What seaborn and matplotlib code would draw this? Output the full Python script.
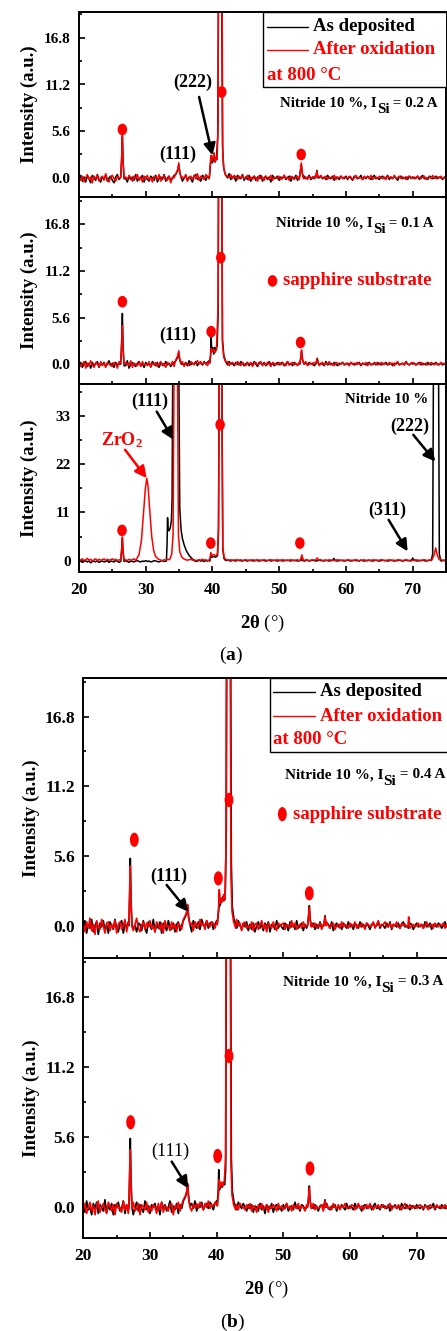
import numpy as np
import pandas as pd
import matplotlib
matplotlib.use("Agg")
import matplotlib.pyplot as plt
import seaborn as sns
from matplotlib.path import Path
from matplotlib.transforms import Affine2D
from matplotlib.lines import Line2D
from matplotlib.patches import Rectangle
from matplotlib.ticker import MultipleLocator

# ---------------------------------------------------------------- data
# background counts on a 0.25 deg grid starting at 2theta = 20 deg, in tenths
GRID_START, GRID_STEP = 20.0, 0.25

a1_black_bg = [
    -2, 3, -4, 1, -5, 2, -1, -6, 3, 0, -3, 4, -2, -5, 1, -1, 3, -4, 0, 2,
    -3, -6, 1, 4, -2, 0, -4, 3, -1, -5, 2, -2, 1, -3, 4, -4, 0, -1, 3, -5,
    1, -2, -4, 2, 0, -3, 3, -5, -1, 1, -2, 4, -4, 0, 2, -3, -1, 3, -6, 1,
    -2, 2, -4, 0, 3, -3, 1, -1, -5, 2, 4, -2, 0, -4, 3, 1, -3, 2, -1, 5,
    0, 3, -2, 1, 4, -1, 2, -3, 3, 0, 5, -2, 1, 2, -4, 3, 0, -1, 4, -3,
    1, -2, 3, -4, 0, 2, -3, 1, -1, 3, -4, 0, 2, -2, 1, -5, 3, -1, 0, 2,
    -3, 1, -1, 3, -2, 0, 2, -4, 1, -1, 3, -3, 0, 1, -2, 2, -1, 0, 3, -2,
    1, -1, 2, -3, 0, 2, -1, 1, -2, 3, 0, -1, 2, -3, 1, 0, -2, 2, 0, -1,
    2, -2, 1, 0, -3, 2, 1, -1, 0, 3, -2, 1, -1, 2, 0, -2, 1, 3, -1, 0,
    -2, 1, 2, -1, 0, 3, -2, 1, -1, 2, 0, -3, 1, 2, -1, 0, 1, -2, 2, 0,
    1, -1, 0, 2, -2, 1, 3, -1, 0, -2, 2, 1, -1, 0, 2, -1, 1, 0, -2, 1,
    0, 2, -1]
a1_red_bg = [
    1, -3, 2, -5, 0, 4, -2, 1, -6, 2, -1, 3, -4, 0, 2, -3, 5, -2, -5, 1,
    3, -1, -4, 2, 0, -3, 4, -6, 1, -2, 3, 0, -4, 2, -1, 4, -3, 1, -5, 2,
    -1, 3, -3, 0, -5, 2, 1, -2, 4, -4, 0, 3, -1, -3, 2, -6, 1, 0, 3, -2,
    2, -3, 1, -1, 4, -4, 0, 2, -2, 3, -1, 5, -3, 2, 0, -2, 4, 1, -1, 3,
    2, 5, 0, 3, -1, 4, 1, -2, 3, 2, 0, 4, -1, 3, 1, -2, 2, 0, 3, -1,
    0, 3, -3, 1, -2, 2, 0, -4, 3, -1, 1, -3, 2, 0, -2, 3, -3, 1, 0, -1,
    2, -2, 0, 3, -1, 1, -3, 2, 0, -2, 1, 2, -2, 0, 3, -1, 1, -2, 2, 0,
    -1, 2, 0, -2, 1, 3, -1, 0, 2, -2, 1, 0, -1, 3, -2, 1, 0, 2, -1, 1,
    0, -1, 2, 1, -2, 0, 3, -1, 1, 0, -2, 2, 0, 1, -1, 3, -2, 0, 1, -1,
    2, 0, -1, 1, -2, 2, 0, 1, -1, 3, -1, 0, 2, -1, 1, 0, -2, 1, 2, -1,
    0, 1, -1, 2, 0, -1, 1, 2, -2, 0, 1, -1, 3, 0, -1, 1, 0, 2, -1, 0,
    1, -1, 0]
a2_black_bg = [
    -1, 2, -4, 0, 3, -3, 1, -5, 2, -2, 0, 3, -4, 1, -1, 2, -3, 0, 4, -2,
    1, -4, 2, -1, 0, 3, -3, 1, -2, 4, -5, 0, 2, -1, -3, 1, 3, -2, 0, -4,
    2, -1, 1, -3, 3, 0, -2, 2, -4, 1, 0, -2, 3, -1, 1, -3, 0, 2, -2, 1,
    -3, 3, 0, -1, 2, -2, 4, -1, 1, 0, 3, -2, 2, 1, -1, 3, 0, 2, 4, -1,
    3, 1, -1, 2, 0, 3, -2, 1, 2, -1, 3, 0, 1, -2, 2, 0, -1, 3, 1, -2,
    0, 2, -2, 1, -1, 3, 0, -3, 2, 1, -1, 2, -2, 0, 3, -1, 1, -2, 0, 2,
    -1, 1, 2, -2, 0, 3, -1, 1, -2, 2, 0, -1, 1, 2, -2, 0, 1, -1, 2, 0,
    1, -2, 0, 2, -1, 1, 0, -2, 3, -1, 0, 1, -1, 2, 0, -2, 1, 0, 2, -1,
    0, 1, -1, 2, 0, -1, 1, 0, 2, -2, 1, 0, -1, 1, 2, -1, 0, 1, -1, 2,
    0, -1, 1, 0, 2, -1, 0, 1, -2, 1, 0, 2, -1, 0, 1, -1, 3, 0, -1, 1,
    0, 1, -1, 0, 2, -1, 1, 0, -1, 2, 0, -1, 1, 0, 2, -1, 0, 1, -1, 0,
    1, 0, -1]
a2_red_bg = [
    2, -3, 0, 3, -5, 1, -2, 4, -1, -4, 2, 0, -3, 3, -2, 1, -4, 2, 0, -1,
    -3, 2, 0, -5, 3, -1, 1, -3, 2, 0, -2, 4, -4, 1, 0, -2, 2, -3, 3, -1,
    0, -2, 3, -4, 1, -1, 2, -3, 0, 3, -2, 1, -4, 2, 0, -1, 3, -3, 1, -2,
    2, -1, 3, -3, 1, 0, -2, 3, 1, -1, 2, 4, 0, 3, -1, 2, 1, -2, 3, 2,
    1, 3, 0, -1, 2, 4, -1, 2, 0, 3, -2, 1, 2, 0, -1, 3, 1, -2, 2, 0,
    -2, 1, 0, 2, -3, 1, 2, -1, 0, 3, -2, 1, -1, 2, 0, -3, 2, 1, -1, 0,
    2, -1, 1, 0, -2, 3, -1, 0, 2, -1, 1, -2, 2, 0, -1, 1, 3, -2, 0, 1,
    -1, 2, 0, 1, -2, 0, 2, -1, 1, 0, 3, -1, 0, -2, 2, 1, -1, 0, 2, -1,
    1, 0, -2, 2, 0, 1, -1, 2, 0, -1, 1, 0, 2, -2, 1, 0, -1, 2, 1, -1,
    0, 2, -1, 1, 0, -1, 2, 0, 1, -2, 1, 3, -1, 0, 1, -1, 2, 0, -1, 1,
    2, 0, -1, 1, 0, 2, -1, 0, 1, -1, 0, 2, 0, -1, 1, 0, -1, 2, 0, 1,
    -1, 0, 1]
a3_black_bg = [
    -3, -1, -4, -2, 0, -3, -1, -5, -2, -1, -3, 0, -4, -2, -1, -3, -2, 0, -4, -1,
    -2, -3, 0, -1, -4, -2, -1, -3, 0, -2, -4, -1, -2, -3, -1, 0, -2, -3, -1, -2,
    0, -2, -1, -3, -2, 0, -1, -2, -3, -1, 0, -2, -1, -3, 0, -1, -2, -1, 0, -2,
    -1, -2, 0, -1, -3, -1, 0, -2, -1, 0, -2, -1, 1, -1, 0, -2, 0, -1, 1, -1,
    0, -1, 1, 0, -1, 0, 1, -1, 0, 2, 0, -1, 1, 0, -1, 1, 0, 0, -1, 1,
    0, -1, 1, 0, 0, -1, 1, 0, -1, 0, 1, 0, -1, 0, 1, -1, 0, 1, 0, -1,
    0, 1, -1, 0, 0, 1, 0, -1, 1, 0, 0, -1, 0, 1, 0, -1, 0, 1, -1, 0,
    1, 0, -1, 0, 1, 0, 0, -1, 1, 0, -1, 0, 1, 0, 0, -1, 0, 1, 0, -1,
    0, 1, 0, -1, 0, 1, 0, 0, -1, 1, 0, -1, 0, 0, 1, 0, -1, 0, 1, 0,
    -1, 0, 1, 0, 0, -1, 0, 1, 0, -1, 0, 0, 1, 0, -1, 0, 1, 0, 0, -1,
    0, 1, 0, -1, 0, 0, 1, 0, -1, 0, 1, 0, 0, -1, 0, 1, 0, -1, 0, 0,
    1, 0, -1]
a3_red_bg = [
    3, 1, 4, 0, 2, 5, 1, 3, -1, 2, 4, 0, 3, 1, 2, 4, 0, 3, 1, 2,
    4, 1, 3, 0, 2, 3, 1, 4, 2, 0, 3, 1, 2, 4, 0, 2, 3, 1, 2, 0,
    2, 3, 1, 2, 0, 3, 1, 2, 3, 1, 0, 2, 1, 3, 2, 1, 0, 2, 3, 1,
    2, 1, 3, 0, 2, 1, 2, 3, 1, 2, 0, 1, 2, 1, 3, 1, 2, 0, 1, 2,
    1, 2, 0, 1, 2, 1, 3, 1, 0, 2, 1, 2, 0, 1, 2, 1, 1, 2, 0, 1,
    2, 1, 0, 1, 2, 1, 0, 2, 1, 1, 0, 2, 1, 0, 1, 2, 1, 0, 1, 2,
    1, 0, 2, 1, 1, 0, 1, 2, 0, 1, 1, 2, 0, 1, 1, 0, 2, 1, 0, 1,
    2, 1, 0, 1, 1, 2, 0, 1, 1, 0, 2, 1, 1, 0, 1, 2, 1, 0, 1, 1,
    0, 2, 1, 1, 0, 1, 2, 1, 0, 1, 1, 2, 0, 1, 1, 0, 2, 1, 1, 0,
    1, 2, 1, 0, 1, 1, 2, 0, 1, 1, 0, 2, 1, 1, 0, 1, 2, 1, 0, 1,
    1, 0, 2, 1, 1, 0, 1, 2, 1, 0, 1, 1, 2, 0, 1, 1, 0, 2, 1, 1,
    0, 1, 2]
b1_black_bg = [
    -3, 4, -6, 1, -2, 5, -5, 0, 3, -7, 2, -1, 4, -4, 1, -6, 3, 0, -3, 5,
    -2, -5, 2, 4, -6, 1, -1, 3, -4, 6, -3, 0, -5, 2, 1, -4, 4, -2, -6, 3,
    0, -3, 5, -5, 1, -2, 3, -6, 2, 0, -4, 4, -1, -3, 2, -5, 1, 3, -4, 0,
    2, -4, 1, -1, 3, -5, 4, 0, -2, 3, -3, 5, 1, -1, 4, -2, 2, 3, -3, 1,
    4, -2, 3, 0, -3, 2, 5, -1, 2, -4, 3, 1, -2, 4, 0, -3, 2, -1, 3, -4,
    1, -3, 2, -5, 0, 3, -2, 1, -4, 2, -1, 3, -5, 1, 0, -3, 4, -2, 1, -1,
    -3, 2, 0, -4, 3, -1, 1, -3, 4, -2, 0, 2, -4, 1, -2, 3, -1, 0, 2, -3,
    1, -2, 3, -1, 0, -3, 2, 1, -2, 3, -4, 0, 2, -1, 1, -3, 2, 0, -2, 3,
    -1, 1, -3, 2, 0, -2, 3, -1, 1, -2, 2, 0, -3, 1, 2, -1, 0, 3, -2, 1,
    0, -2, 2, -1, 3, -3, 1, 0, -1, 2, -2, 1, 3, -1, 0, -2, 2, 1, -3, 0,
    2, -1, 0, 1, -2, 3, -1, 0, 2, -3, 1, 0, -1, 2, 1, -2, 0, 3, -1, 1,
    -2, 0, 1]
b1_red_bg = [
    2, -5, 3, -2, 6, -4, 1, -7, 4, -1, -3, 5, 0, -6, 2, 3, -4, 1, -2, 4,
    -6, 1, 3, -3, 0, 5, -5, 2, -1, 3, -4, 1, 6, -2, -5, 0, 3, -3, 2, -1,
    4, -2, 0, -5, 3, 1, -3, 2, -6, 4, -1, 0, -4, 3, -2, 1, -5, 2, 0, -3,
    3, 0, -3, 4, -1, 2, -4, 3, 1, -2, 5, 0, 2, -3, 4, 1, -1, 3, 2, -2,
    3, 1, -2, 5, 0, 2, -3, 4, 1, -1, 3, -2, 5, 0, 2, -4, 1, 3, -2, 0,
    -2, 3, -4, 1, 2, -3, 0, 4, -2, 1, -5, 2, 0, -2, 3, -1, -4, 2, 0, 1,
    2, -3, 1, 0, -2, 4, -1, 2, -3, 0, 1, -2, 3, -1, 0, 2, -4, 1, -1, 2,
    -2, 0, 2, -3, 1, -1, 3, 0, -2, 1, 2, -3, 0, 1, -2, 3, -1, 1, 0, -2,
    2, -1, 0, 3, -2, 1, -1, 2, 0, -3, 2, 1, -1, 0, 3, -2, 1, 4, -1, 0,
    1, 3, -1, 0, 2, -2, 1, 0, 3, -1, -2, 2, 0, 1, -1, 3, -2, 0, 1, -1,
    0, 2, -1, 1, -2, 0, 3, -1, 0, 1, -2, 2, 0, -1, 1, 0, 2, -2, 1, 0,
    1, -1, 0]
b2_black_bg = [
    1, -4, 5, -2, 0, -6, 3, -1, 4, -5, 2, 0, -3, 6, -4, 1, -2, 3, -6, 2,
    0, 4, -3, -1, 5, -5, 2, -2, 1, 3, -6, 0, 4, -3, 2, -1, -4, 5, -2, 1,
    -5, 2, 0, 3, -3, 1, -6, 4, -1, 2, -3, 0, 5, -4, 1, -2, 3, -5, 2, -1,
    1, -3, 4, 0, -2, 3, -1, 5, -3, 2, 0, 4, -2, 1, 3, -1, 4, 2, -2, 3,
    5, 0, 2, -2, 4, 1, 3, -1, 5, 2, 0, 3, -2, 4, 1, -1, 3, 0, -3, 2,
    -1, 2, -4, 1, 0, -3, 3, -2, 1, -5, 2, 0, -1, 3, -4, 1, 2, -2, 0, -3,
    2, -1, 3, -3, 0, 1, -2, 4, -1, 0, -3, 2, 1, -2, 0, 3, -3, 1, -1, 2,
    0, -3, 1, 2, -2, 0, 3, -1, -2, 1, 0, 2, -3, 1, -1, 2, 0, -2, 3, -1,
    1, 0, -2, 3, -1, 2, 0, -3, 1, 2, -1, 0, 2, -2, 1, 3, -1, 0, -2, 2,
    0, 1, -1, 2, -3, 1, 0, 2, -1, 1, -2, 3, 0, -1, 2, 0, -2, 1, 1, -1,
    2, 0, -1, 1, -2, 2, 0, 1, -1, 0, 3, -2, 1, 0, -1, 2, 0, -1, 1, 0,
    -1, 1, 0]
b2_red_bg = [
    -2, 3, -5, 0, 4, -3, 1, -6, 2, 5, -4, 0, 3, -2, -5, 4, 1, -3, 2, -6,
    3, -1, 0, -4, 5, -2, 2, -5, 1, 0, 4, -3, -1, 3, -6, 2, 0, -2, 4, -4,
    1, -3, 2, 0, -5, 3, -2, 4, -4, 1, 0, -3, 2, 3, -6, 1, -1, 4, -3, 2,
    -1, 3, -2, 1, 4, -3, 2, 0, 3, -1, 4, 1, -2, 3, 0, 5, -1, 2, 1, 4,
    2, 4, -1, 3, 0, 5, -2, 2, 3, 0, -1, 4, 2, -2, 3, 1, 0, -2, 2, -1,
    3, -3, 1, 0, -4, 2, -1, 3, -2, 0, 2, -4, 1, -1, 2, 0, -3, 3, -1, 1,
    -2, 0, 3, -1, 1, -3, 2, 0, -1, 3, -2, 1, 0, -3, 2, 1, -1, 0, 3, -2,
    1, -1, 0, 2, -3, 1, 2, -1, 0, -2, 3, 0, -1, 2, -2, 1, 0, 3, -1, 0,
    -1, 2, 1, -2, 0, 3, -1, 1, -2, 0, 2, -1, 3, 0, -2, 1, 0, 2, -1, 1,
    2, -1, 0, 1, 3, -2, 0, 1, -1, 2, 0, -2, 1, 3, -1, 0, 2, -1, 0, 1,
    -1, 1, 2, 0, -1, 1, 0, -2, 2, 1, 0, -1, 2, 0, 1, -1, 0, 2, -1, 1,
    0, -1, 1]

# diffraction peaks: (2theta, intensity) points
a1_black_peaks = [
    [(26.25, 0.1), (26.4, 2.4), (26.5, 4.9), (26.6, 2.1), (26.75, -0.1)],
    [(34.5, 0.4), (34.8, 0.9), (34.95, 1.6), (35.1, 0.7), (35.3, 0.1)],
    [(39.55, 0.2), (39.7, 1.6), (39.85, 2.2), (40.0, 1.8), (40.2, 2.4), (40.4, 1.9),
     (40.6, 2.3), (40.8, 5.0), (40.95, 30.0), (41.35, 30.0), (41.5, 4.0), (41.65, 1.4),
     (41.85, 0.6), (42.1, 0.2)],
    [(53.05, 0.1), (53.2, 0.9), (53.32, 1.6), (53.45, 0.6), (53.65, 0.0)],
    [(55.5, 0.1), (55.65, 0.9), (55.8, 0.0)],
]
a1_red_peaks = [
    [(26.25, 0.0), (26.4, 2.6), (26.5, 5.1), (26.6, 2.2), (26.75, 0.0)],
    [(34.5, 0.5), (34.8, 1.0), (34.95, 1.8), (35.1, 0.6), (35.3, 0.0)],
    [(39.55, 0.1), (39.7, 2.1), (39.8, 2.7), (39.95, 2.0), (40.1, 2.6), (40.25, 3.0),
     (40.4, 1.9), (40.55, 2.5), (40.7, 2.2), (40.85, 7.0), (40.9, 30.0), (41.4, 30.0),
     (41.55, 3.2), (41.7, 1.2), (41.95, 0.3), (42.2, 0.2)],
    [(53.05, 0.0), (53.2, 1.0), (53.32, 1.8), (53.45, 0.6), (53.65, -0.1)],
    [(55.5, 0.0), (55.65, 0.8), (55.8, 0.1)],
]
a2_black_peaks = [
    [(26.25, 0.0), (26.4, 3.0), (26.5, 6.1), (26.6, 2.3), (26.75, -0.2)],
    [(34.5, 0.4), (34.8, 0.8), (34.95, 1.4), (35.1, 0.5), (35.3, 0.0)],
    [(39.6, 0.2), (39.72, 1.2), (39.8, 3.3), (39.9, 1.5), (40.05, 2.0), (40.2, 1.2),
     (40.35, 2.0), (40.5, 1.6), (40.7, 2.2), (40.85, 6.0), (40.95, 30.0), (41.35, 30.0),
     (41.5, 3.0), (41.7, 1.0), (42.0, 0.3)],
    [(53.1, 0.0), (53.25, 0.8), (53.35, 1.5), (53.5, 0.5), (53.7, 0.0)],
    [(55.5, 0.0), (55.7, 0.7), (55.9, 0.0)],
]
a2_red_peaks = [
    [(26.25, 0.1), (26.4, 2.2), (26.5, 4.6), (26.6, 1.8), (26.75, 0.0)],
    [(34.5, 0.5), (34.8, 1.0), (34.95, 1.6), (35.1, 0.6), (35.3, 0.1)],
    [(39.6, 0.1), (39.75, 1.2), (39.82, 1.9), (40.0, 1.5), (40.2, 1.8), (40.4, 1.4),
     (40.6, 1.8), (40.85, 7.0), (40.92, 30.0), (41.38, 30.0), (41.5, 2.5), (41.7, 0.8),
     (42.0, 0.2)],
    [(53.1, 0.1), (53.25, 0.9), (53.35, 1.7), (53.5, 0.6), (53.7, 0.0)],
    [(55.5, 0.1), (55.7, 0.6), (55.9, 0.0)],
]
a3_black_peaks = [
    [(26.25, -0.2), (26.4, 2.5), (26.5, 5.0), (26.6, 2.0), (26.75, -0.2)],
    [(33.1, -0.1), (33.2, 4.0), (33.27, 9.8), (33.35, 7.0), (33.5, 6.8), (33.7, 7.6),
     (33.85, 9.2), (33.95, 14.0), (34.05, 45.0), (34.95, 45.0), (35.1, 12.0), (35.3, 7.0),
     (35.5, 5.0), (35.8, 3.4), (36.1, 2.2), (36.5, 1.2), (36.9, 0.5), (37.3, 0.0)],
    [(39.6, -0.1), (39.75, 1.2), (39.9, 0.8), (40.2, 0.9), (40.5, 0.8), (40.75, 1.1),
     (40.9, 6.0), (41.0, 45.0), (41.4, 45.0), (41.55, 2.5), (41.75, 0.4), (42.0, 0.0)],
    [(53.25, 0.0), (53.4, 0.7), (53.55, 0.0)],
    [(58.0, 0.0), (58.2, 0.5), (58.4, 0.0)],
    [(69.8, 0.0), (70.0, 0.6), (70.2, 0.0)],
    [(72.8, 0.1), (73.0, 1.5), (73.12, 45.0), (73.88, 45.0), (74.0, 1.5), (74.2, 0.1)],
]
a3_red_peaks = [
    [(26.25, 0.1), (26.4, 2.8), (26.5, 5.4), (26.6, 2.3), (26.75, 0.1)],
    [(28.6, 0.3), (29.0, 1.4), (29.35, 4.5), (29.65, 10.5), (29.95, 16.5), (30.15, 18.8),
     (30.35, 17.0), (30.6, 11.5), (30.9, 5.5), (31.2, 2.2), (31.5, 0.9), (31.9, 0.3)],
    [(33.6, 0.3), (33.9, 1.5), (34.1, 6.0), (34.25, 45.0), (34.75, 45.0), (34.9, 6.0),
     (35.1, 2.0), (35.4, 0.8), (35.8, 0.3)],
    [(39.6, 0.2), (39.75, 1.8), (39.9, 1.2), (40.2, 1.4), (40.5, 1.1), (40.75, 1.5),
     (40.92, 8.0), (41.02, 45.0), (41.38, 45.0), (41.55, 3.0), (41.75, 0.8), (42.0, 0.2)],
    [(53.2, 0.2), (53.4, 1.3), (53.6, 0.2)],
    [(55.5, 0.2), (55.7, 0.6), (55.9, 0.2)],
    [(72.9, 0.2), (73.2, 1.2), (73.45, 2.9), (73.7, 1.2), (74.0, 0.2)],
]
b1_black_peaks = [
    [(26.85, 0.0), (26.95, 2.5), (27.05, 5.4), (27.15, 2.2), (27.3, 0.1)],
    [(35.0, 0.4), (35.3, 0.7), (35.5, 1.0), (35.65, 1.5), (35.8, 0.7), (36.0, 0.1)],
    [(40.1, 0.2), (40.3, 1.2), (40.4, 2.6), (40.5, 1.6), (40.7, 2.0), (40.9, 2.3),
     (41.1, 2.0), (41.3, 2.8), (41.45, 8.0), (41.55, 30.0), (42.05, 30.0), (42.2, 5.0),
     (42.35, 1.5), (42.6, 0.5), (42.9, 0.1)],
    [(53.65, 0.1), (53.8, 0.8), (53.9, 1.6), (54.0, 0.6), (54.2, 0.0)],
    [(56.1, 0.1), (56.25, 0.8), (56.4, 0.1)],
]
b1_red_peaks = [
    [(26.85, 0.1), (26.95, 2.2), (27.05, 4.8), (27.15, 1.9), (27.3, -0.1)],
    [(35.0, 0.5), (35.3, 0.8), (35.5, 1.1), (35.65, 1.7), (35.8, 0.6), (36.0, 0.1)],
    [(40.1, 0.1), (40.3, 1.5), (40.4, 2.9), (40.5, 1.8), (40.65, 2.2), (40.85, 1.9),
     (41.05, 2.5), (41.25, 2.1), (41.4, 6.0), (41.5, 30.0), (42.0, 30.0), (42.15, 4.0),
     (42.3, 1.2), (42.55, 0.3), (42.85, -0.2)],
    [(53.65, 0.0), (53.8, 0.9), (53.9, 1.5), (54.0, 0.5), (54.2, -0.1)],
    [(56.1, 0.0), (56.25, 0.7), (56.4, 0.0)],
    [(68.7, 0.0), (68.8, 0.7), (68.9, 0.0)],
]
b2_black_peaks = [
    [(26.85, 0.0), (26.95, 2.6), (27.05, 5.5), (27.15, 2.3), (27.3, 0.0)],
    [(35.0, 0.5), (35.3, 0.8), (35.5, 1.2), (35.65, 1.8), (35.8, 0.8), (36.0, 0.1)],
    [(40.1, 0.2), (40.25, 1.5), (40.32, 3.0), (40.42, 1.4), (40.6, 1.8), (40.8, 1.6),
     (41.0, 2.0), (41.2, 1.8), (41.35, 3.0), (41.5, 30.0), (42.05, 30.0), (42.2, 4.0),
     (42.35, 1.3), (42.6, 0.4), (42.9, 0.0)],
    [(53.65, 0.1), (53.8, 0.8), (53.9, 1.7), (54.0, 0.6), (54.2, 0.0)],
    [(56.1, 0.1), (56.25, 0.6), (56.4, 0.0)],
]
b2_red_peaks = [
    [(26.85, 0.1), (26.95, 2.2), (27.05, 4.6), (27.15, 1.9), (27.3, -0.1)],
    [(35.0, 0.6), (35.3, 0.9), (35.5, 1.2), (35.65, 1.9), (35.8, 0.7), (36.0, 0.0)],
    [(40.1, 0.1), (40.3, 1.2), (40.4, 2.2), (40.55, 1.6), (40.75, 2.0), (40.95, 1.7),
     (41.15, 2.1), (41.35, 4.0), (41.45, 30.0), (42.0, 30.0), (42.15, 3.5), (42.3, 1.0),
     (42.55, 0.2), (42.85, -0.2)],
    [(53.65, 0.0), (53.8, 0.9), (53.9, 1.6), (54.0, 0.5), (54.2, -0.1)],
    [(56.1, 0.0), (56.25, 0.5), (56.4, 0.0)],
]

# sapphire substrate reflections marked with red dots
a1_sapphire = [(26.5, 5.8), (41.4, 10.3), (53.3, 2.8)]
a2_sapphire = [(26.5, 7.5), (39.8, 3.9), (41.25, 12.8), (53.2, 2.6)]
a3_sapphire = [(26.45, 6.9), (39.75, 4.0), (41.15, 31.0), (53.1, 4.0)]
b1_sapphire = [(27.65, 6.9), (40.25, 3.8), (41.85, 10.1), (53.9, 2.6)]
b2_sapphire = [(27.1, 6.8), (40.15, 4.1), (41.85, 12.1), (54.0, 3.1)]

series_names = ["As deposited", "After oxidation"]
series_colors = ["black", "red"]
currents = ["0.2", "0.1", None, "0.4", "0.3"]
small_ticks = [0, 5.6, 11.2, 16.8]
small_labels = ["0.0", "5.6", "11.2", "16.8"]
large_ticks = [0, 11, 22, 33]
large_labels = ["0", "11", "22", "33"]
x_ticks = [20, 30, 40, 50, 60, 70]
x_labels = ["20", "30", "40", "50", "60", "70"]

# ---------------------------------------------------------------- style
sns.set_theme(style="ticks")
plt.rcParams.update({
    "font.family": ["Liberation Serif", "DejaVu Serif"],
    "font.weight": "bold",
    "mathtext.fontset": "custom",
    "mathtext.rm": "Liberation Serif",
    "mathtext.bf": "Liberation Serif:bold",
    "mathtext.it": "Liberation Serif:italic",
    "text.color": "black",
    "axes.labelcolor": "black",
    "axes.edgecolor": "black",
    "axes.linewidth": 1.4,
    "xtick.color": "black",
    "ytick.color": "black",
})

W, H = 447, 1331
fig = plt.figure(figsize=(W / 100, H / 100), dpi=100)


def px_box(left, top, right, bottom):
    return [left / W, 1 - bottom / H, (right - left) / W, (bottom - top) / H]


def spectrum(bg, peaks):
    x = GRID_START + GRID_STEP * np.arange(len(bg))
    y = np.asarray(bg, float) / 10.0
    keep = np.ones(len(x), bool)
    px, py = [], []
    for seg in peaks:
        sx = [p[0] for p in seg]
        sy = [p[1] for p in seg]
        keep &= ~((x >= min(sx)) & (x <= max(sx)))
        px += sx
        py += sy
    xs = np.concatenate([x[keep], px])
    ys = np.concatenate([y[keep], py])
    order = np.argsort(xs, kind="stable")
    return xs[order], ys[order]


ellipse_a = Path.unit_circle().transformed(Affine2D().scale(0.82, 1.0))
ellipse_b = Path.unit_circle().transformed(Affine2D().scale(0.62, 1.0))


def panel(box, bgs, peaks, dots, ylim, big, xtick_fs, ytick_fs, marker, msize, lw):
    ax = fig.add_axes(px_box(*box))
    frames = []
    for name, bg, pk in zip(series_names, bgs, peaks):
        xs, ys = spectrum(bg, pk)
        frames.append(pd.DataFrame({"two_theta": xs, "intensity": ys, "sample": name}))
    df = pd.concat(frames, ignore_index=True)
    sns.lineplot(data=df, x="two_theta", y="intensity", hue="sample",
                 hue_order=series_names, palette=series_colors, estimator=None,
                 sort=False, linewidth=lw, legend=False, ax=ax)
    dd = pd.DataFrame(dots, columns=["two_theta", "intensity"])
    sns.scatterplot(data=dd, x="two_theta", y="intensity", marker=marker, s=msize,
                    color="red", edgecolor="none", linewidth=0, zorder=5, ax=ax)
    ax.set_xlim(20, 75)
    ax.set_ylim(*ylim)
    ax.set_xticks(x_ticks)
    ax.set_xticklabels(x_labels)
    ax.xaxis.set_minor_locator(MultipleLocator(5))
    if big:
        ax.set_yticks(large_ticks)
        ax.set_yticklabels(large_labels)
        ax.yaxis.set_minor_locator(MultipleLocator(5.5))
    else:
        ax.set_yticks(small_ticks)
        ax.set_yticklabels(small_labels)
        ax.yaxis.set_minor_locator(MultipleLocator(2.8))
    ax.tick_params(which="both", direction="in", top=False, right=False, width=1.2)
    ax.tick_params(which="major", length=4.5)
    ax.tick_params(which="minor", length=2.5)
    ax.tick_params(axis="y", pad=6, labelsize=ytick_fs)
    ax.tick_params(axis="x", pad=7, labelsize=xtick_fs)
    for lab in ax.get_xticklabels() + ax.get_yticklabels():
        lab.set_fontweight("bold")
    ax.set_xlabel("")
    ax.set_ylabel("Intensity (a.u.)", fontsize=13.5, fontweight="bold")
    return ax


def key_box(ax, x0, y0, lx0, lx1, ly_black, ly_red, tx, ly_note, fs):
    ax.add_patch(Rectangle((x0, y0), 1.05 - x0, 1.0 - y0, transform=ax.transAxes,
                           facecolor="white", edgecolor="black", lw=1.0, zorder=6,
                           clip_on=True))
    for ly, col, txt in [(ly_black, "black", "As deposited"),
                         (ly_red, "red", "After oxidation")]:
        ax.add_line(Line2D([lx0, lx1], [ly, ly], transform=ax.transAxes, color=col,
                           lw=1.0, zorder=7))
        ax.text(tx, ly, txt, transform=ax.transAxes, color=col, fontsize=fs,
                fontweight="bold", ha="left", va="center", zorder=7)
    ax.text(lx0, ly_note, "at 800 °C", transform=ax.transAxes, color="red", fontsize=fs,
            fontweight="bold", ha="left", va="center", zorder=7)


def nitride(ax, x, y, current, fs):
    t1 = ax.text(x, y, "Nitride 10 %" + (", I" if current else ""), transform=ax.transAxes,
                 fontsize=fs, fontweight="bold", ha="left", va="center")
    if current is None:
        return
    t2 = ax.annotate("Si", xy=(1, 0), xycoords=t1, xytext=(0, -4.5),
                     textcoords="offset points", fontsize=fs, fontweight="bold",
                     ha="left", va="bottom")
    ax.annotate(" = " + current + " A", xy=(1, 0), xycoords=t2, xytext=(0, 4.5),
                textcoords="offset points", fontsize=fs, fontweight="bold",
                ha="left", va="bottom")


def arrow(ax, tail, tip, color="black"):
    ax.annotate("", xy=tip, xytext=tail,
                arrowprops=dict(arrowstyle="-|>,head_length=0.7,head_width=0.35",
                                color=color, lw=1.8, mutation_scale=10,
                                shrinkA=0, shrinkB=0))


def sapphire_key(ax, x, y, tx, marker, msize, fs):
    ax.scatter([x], [y], marker=marker, s=msize, color="red", edgecolor="none", zorder=5)
    ax.text(tx, y, "sapphire substrate", color="red", fontsize=fs, fontweight="bold",
            ha="left", va="center")


# ---------------------------------------------------------------- panel (a)
ax1 = panel((79, 12, 446, 197), [a1_black_bg, a1_red_bg], [a1_black_peaks, a1_red_peaks],
            a1_sapphire, (-2.3, 19.9), False, 12.5, 11, ellipse_a, 70, 1.1)
ax2 = panel((79, 197, 446, 384), [a2_black_bg, a2_red_bg], [a2_black_peaks, a2_red_peaks],
            a2_sapphire, (-2.4, 20.1), False, 12.5, 11, ellipse_a, 70, 1.1)
ax3 = panel((79, 384, 446, 572), [a3_black_bg, a3_red_bg], [a3_black_peaks, a3_red_peaks],
            a3_sapphire, (-2.6, 40.3), True, 12.5, 11, ellipse_a, 70, 1.1)
for ax in (ax1, ax2):
    ax.tick_params(labelbottom=False)
for ax in (ax1, ax2, ax3):
    ax.yaxis.set_label_coords(-0.111, 0.5)

key_box(ax1, 0.501, 0.595, 0.512, 0.624, 0.921, 0.795, 0.638, 0.659, 13.5)
nitride(ax1, 0.548, 0.508, currents[0], 10.8)
nitride(ax2, 0.537, 0.859, currents[1], 10.8)
nitride(ax3, 0.725, 0.919, currents[2], 10.8)
sapphire_key(ax2, 49.0, 10.0, 50.6, ellipse_a, 70, 13.5)

ax1.text(37.1, 11.5, "(222)", fontsize=13, fontweight="bold", ha="center", va="center")
arrow(ax1, (38.0, 9.7), (40.0, 2.7))
ax1.text(34.85, 2.85, "(111)", fontsize=13, fontweight="bold", ha="center", va="center")
ax2.text(34.8, 3.4, "(111)", fontsize=13, fontweight="bold", ha="center", va="center")

ax3.text(30.65, 36.3, "(111)", fontsize=13, fontweight="bold", ha="center", va="center")
arrow(ax3, (31.65, 34.0), (34.15, 27.6))
ax3.text(26.5, 27.6, r"ZrO$_{\mathbf{2}}$", color="red", fontsize=13, fontweight="bold",
         ha="center", va="center")
arrow(ax3, (26.9, 25.3), (30.15, 18.8), color="red")
ax3.text(69.55, 30.6, "(222)", fontsize=13, fontweight="bold", ha="center", va="center")
arrow(ax3, (70.1, 28.7), (73.4, 22.6))
ax3.text(66.15, 11.5, "(311)", fontsize=13, fontweight="bold", ha="center", va="center")
arrow(ax3, (66.4, 9.3), (69.25, 2.1))

ax3.set_xlabel(r"$\mathbf{2θ}$ (°)", fontsize=13.5, fontweight="normal")
ax3.xaxis.set_label_coords(0.5, -0.22)
fig.text(230.7 / W, 1 - 655 / H, r"($\mathbf{a}$)", fontsize=14, fontweight="normal",
         ha="center", va="center")

# ---------------------------------------------------------------- panel (b)
bx1 = panel((83.3, 678, 450, 958), [b1_black_bg, b1_red_bg], [b1_black_peaks, b1_red_peaks],
            b1_sapphire, (-2.6, 19.9), False, 12.5, 12.5, ellipse_b, 105, 1.2)
bx2 = panel((83.3, 958, 450, 1238), [b2_black_bg, b2_red_bg], [b2_black_peaks, b2_red_peaks],
            b2_sapphire, (-2.46, 19.94), False, 12.5, 12.5, ellipse_b, 105, 1.2)
bx1.tick_params(labelbottom=False)
for ax in (bx1, bx2):
    ax.yaxis.set_label_coords(-0.118, 0.5)

key_box(bx1, 0.509, 0.737, 0.517, 0.632, 0.951, 0.864, 0.645, 0.781, 13.5)
nitride(bx1, 0.55, 0.654, currents[3], 11.0)
nitride(bx2, 0.544, 0.915, currents[4], 11.0)
sapphire_key(bx1, 49.85, 8.96, 51.45, ellipse_b, 105, 13.5)

bx1.text(32.75, 4.0, "(111)", fontsize=13, fontweight="bold", ha="center", va="center")
arrow(bx1, (32.5, 3.27), (35.75, 1.12))
bx2.text(33.0, 4.45, "(111)", fontsize=13, fontweight="normal", ha="center", va="center")
arrow(bx2, (33.26, 3.65), (35.75, 1.52))

bx2.set_xlabel(r"$\mathbf{2θ}$ (°)", fontsize=13.5, fontweight="normal")
bx2.xaxis.set_label_coords(0.5, -0.145)
fig.text(233 / W, 1 - 1322 / H, r"($\mathbf{b}$)", fontsize=14, fontweight="normal",
         ha="center", va="center")

fig.savefig("out.png", dpi=100)
